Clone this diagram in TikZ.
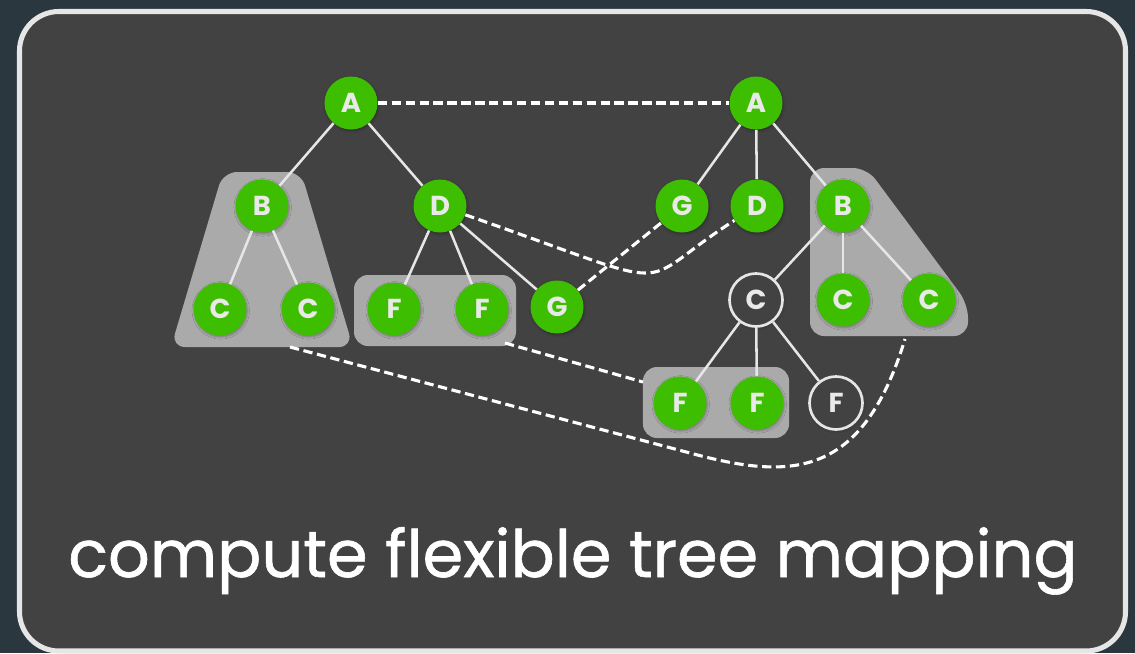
\documentclass[tikz,border=0pt]{standalone}
\usepackage{fontspec}
\setmainfont{Poppins}
\newfontfamily\capfont{Poppins}[FakeBold=0.9]
\usetikzlibrary{positioning, fit, shadows.blur}
\definecolor{slateout}{HTML}{2B373E}
\definecolor{panelgray}{HTML}{424242}
\definecolor{framelight}{HTML}{E6E6E6}
\definecolor{leafgreen}{HTML}{3DBE00}
\definecolor{groupgray}{HTML}{AAAAAA}
\definecolor{letterlight}{HTML}{E9E9E9}

\tikzset{
  tnode/.style={circle, fill=leafgreen, minimum size=37.7pt, inner sep=0pt,
    text=letterlight, font=\fontsize{19.5}{19.5}\selectfont\bfseries,
    blur shadow={shadow xshift=0.5pt, shadow yshift=-1pt, shadow blur radius=1.6pt, shadow opacity=30}},
  onode/.style={tnode, fill=panelgray, draw=framelight, line width=1.9pt},
  groupbox/.style={rectangle, fill=groupgray, rounded corners=10pt, inner sep=0pt},
  tedge/.style={draw=framelight, line width=1.8pt},
  match/.style={draw=white, line width=2.2pt, dash pattern=on 6.6pt off 3.3pt},
}

\begin{document}
\begin{tikzpicture}[x=0.025cm, y=-0.025cm]
  \useasboundingbox (0,0) rectangle (1135,653);

  % Backdrop and panel
  \fill[slateout] (0,0) rectangle (1135,653);
  \draw[framelight, fill=panelgray, line width=3.6pt, rounded corners=28pt] (19.5,11.5) rectangle (1125.5,651);

  % Grey groups (matched subtrees)
  \fill[groupgray, rounded corners=10pt] (223,172) -- (301,172) -- (353,347) -- (171,347) -- cycle;
  \node[groupbox, minimum width=115.2pt, minimum height=50.5pt] (fleft) at (435,310.5) {};
  \node[groupbox, minimum width=103.9pt, minimum height=50.5pt] (fright) at (716,402.5) {};
  \fill[groupgray, rounded corners=10pt] (810,168) -- (867,168) -- (968,304) -- (968,336) -- (810,336) -- cycle;

  % Left tree
  \node[tnode] (la) at (351,103) {A};
  \node[tnode] (lb) at (262,206) {B};
  \node[tnode] (ld) at (440,206) {D};
  \node[tnode] (lca) at (220,309) {C};
  \node[tnode] (lcb) at (308,309) {C};
  \node[tnode] (lfa) at (394,309) {F};
  \node[tnode] (lfb) at (482,309) {F};
  \node[tnode] (lg) at (557,307) {G};

  % Right tree
  \node[tnode] (ra) at (756,103) {A};
  \node[tnode] (rg) at (682,206) {G};
  \node[tnode] (rd) at (757,206) {D};
  \node[tnode] (rb) at (843,206) {B};
  \node[onode] (rc) at (756,300) {C};
  \node[tnode] (rca) at (843,300) {C};
  \node[tnode] (rcb) at (929,300) {C};
  \node[tnode] (rfa) at (680,403) {F};
  \node[tnode] (rfb) at (757,403) {F};
  \node[onode] (rf) at (836,403) {F};

  % Tree edges
  \foreach \p/\c in {la/lb, la/ld, lb/lca, lb/lcb, ld/lfa, ld/lfb, ld/lg,
                     ra/rg, ra/rd, ra/rb, rb/rc, rb/rca, rb/rcb, rc/rfa, rc/rfb, rc/rf}
    \draw[tedge] (\p) -- (\c);

  % Mapping ends on the groups
  \coordinate (trapfoot) at (290,347);
  \coordinate (bfoot) at (905,339);
  \coordinate (fleftout) at (505,343);
  \coordinate (frightin) at (643,382);

  % Dashed mapping lines
  \draw[match] (la) -- (ra);
  \draw[match] (ld) .. controls (693,294) and (627,289) .. (rd);
  \draw[match] (lg) -- (rg);
  \draw[match] (fleftout) -- (frightin);
  \draw[match] (trapfoot) -- (690,453) .. controls (790,480) and (862,480) .. (bfoot);

  % Caption
  \node[text=white, font=\fontsize{46.5}{46.5}\selectfont\capfont, anchor=base] (caption) at (573,577) {compute flexible tree mapping};
\end{tikzpicture}
\end{document}
